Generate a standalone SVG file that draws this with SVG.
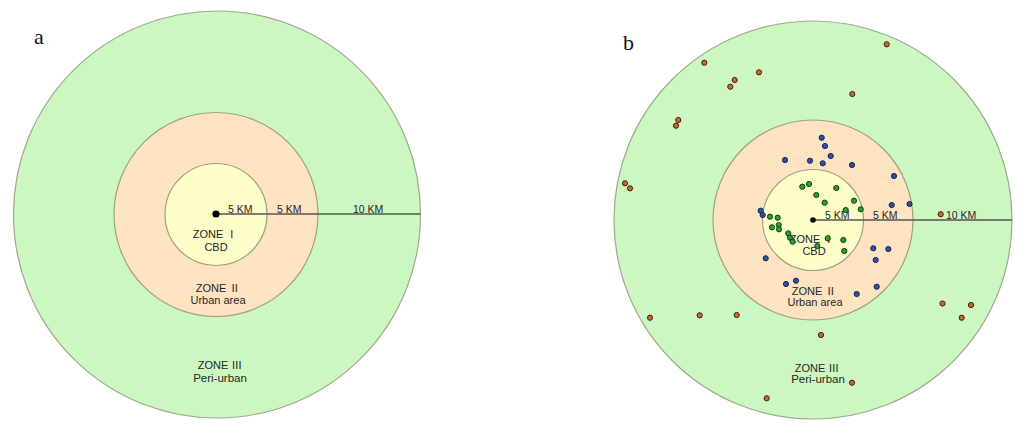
<svg xmlns="http://www.w3.org/2000/svg" width="1024" height="428" viewBox="0 0 1024 428">
<style>
.z3{fill:#cdf7c0;stroke:#a0a890;stroke-width:1.2}
.z2{fill:#fde3c0;stroke:#a0a080;stroke-width:1.2}
.z1{fill:#fdfdc8;stroke:#a0a080;stroke-width:1.2}
.rad{stroke:#555;stroke-width:1.6;fill:none}
.t{font-family:"Liberation Sans","Noto Sans CJK JP",sans-serif;font-size:11px;fill:#262626;text-anchor:middle}
.rn{font-family:"Noto Sans CJK JP",sans-serif}
.km{font-family:"Liberation Sans",sans-serif;font-size:10.5px;fill:#262626}
.lab{font-family:"Liberation Serif",serif;font-size:22px;fill:#111}
.br{fill:#c8682a;stroke:#3a2410;stroke-width:1}
.bl{fill:#2f4fb0;stroke:#1a2448;stroke-width:1}
.gr{fill:#2f9e2f;stroke:#163c16;stroke-width:1}
</style>
<rect width="1024" height="428" fill="#fff"/>
<text class="lab" x="34" y="44">a</text>
<text class="lab" x="623" y="50">b</text>

<g id="panel-a">
  <g id="a-zone3"><circle class="z3" cx="217" cy="214.5" r="203.5"/>
    <text class="t" x="220" y="369">ZONE <tspan class="rn">Ⅲ</tspan></text><text class="t" x="220" y="382" style="font-size:11.5px">Peri-urban</text></g>
  <g id="a-zone2"><circle class="z2" cx="216" cy="214.5" r="102"/>
    <text class="t" x="218" y="292">ZONE <tspan class="rn">Ⅱ</tspan></text><text class="t" x="218" y="304">Urban area</text></g>
  <g id="a-zone1"><circle class="z1" cx="216" cy="214.5" r="51"/>
    <text class="t" x="215" y="238">ZONE <tspan class="rn">Ⅰ</tspan></text><text class="t" x="216" y="251">CBD</text></g>
</g>

<g id="panel-b">
  <g id="b-zone3"><circle class="z3" cx="813" cy="220" r="199"/>
    <text class="t" x="817" y="372">ZONE <tspan class="rn">Ⅲ</tspan></text><text class="t" x="818" y="383" style="font-size:11.5px">Peri-urban</text></g>
  <g id="b-zone2"><circle class="z2" cx="813" cy="220" r="100"/>
    <text class="t" x="814" y="295">ZONE <tspan class="rn">Ⅱ</tspan></text><text class="t" x="815" y="306">Urban area</text></g>
  <g id="b-zone1"><circle class="z1" cx="813" cy="220" r="50.5"/>
    <text class="t" x="812" y="243">ZONE <tspan class="rn">Ⅰ</tspan></text><text class="t" x="814" y="255">CBD</text></g>
</g>

<g id="connectors">
  <line class="rad" x1="216" y1="214" x2="420.5" y2="214"/>
  <circle cx="216" cy="214" r="3.6" fill="#000"/>
  <line class="rad" x1="813" y1="220" x2="1012" y2="220"/>
  <circle cx="813" cy="220" r="2.8" fill="#000"/>
</g>

<g id="km-labels">
  <text class="km" x="228" y="213">5 KM</text>
  <text class="km" x="277" y="213">5 KM</text>
  <text class="km" x="353" y="213">10 KM</text>
  <text class="km" x="825" y="219">5 KM</text>
  <text class="km" x="873" y="219">5 KM</text>
  <text class="km" x="946" y="219">10 KM</text>
</g>

<g id="dots-periurban">
  <circle class="br" cx="886.7" cy="44.3" r="2.6"/>
  <circle class="br" cx="704.3" cy="62.7" r="2.6"/>
  <circle class="br" cx="759" cy="72.3" r="2.6"/>
  <circle class="br" cx="734.7" cy="80" r="2.6"/>
  <circle class="br" cx="730.3" cy="86.7" r="2.6"/>
  <circle class="br" cx="852.3" cy="94" r="2.6"/>
  <circle class="br" cx="678.3" cy="120" r="2.6"/>
  <circle class="br" cx="676" cy="125.7" r="2.6"/>
  <circle class="br" cx="625" cy="183.3" r="2.6"/>
  <circle class="br" cx="630" cy="188.3" r="2.6"/>
  <circle class="br" cx="940.7" cy="214.2" r="2.6"/>
  <circle class="br" cx="942.5" cy="303.5" r="2.6"/>
  <circle class="br" cx="971" cy="305" r="2.6"/>
  <circle class="br" cx="961.7" cy="317.7" r="2.6"/>
  <circle class="br" cx="650" cy="317.7" r="2.6"/>
  <circle class="br" cx="699.7" cy="315.3" r="2.6"/>
  <circle class="br" cx="736.7" cy="315" r="2.6"/>
  <circle class="br" cx="821" cy="335" r="2.6"/>
  <circle class="br" cx="852" cy="382.7" r="2.6"/>
  <circle class="br" cx="766.7" cy="398.3" r="2.6"/>
</g>

<g id="dots-urban">
  <circle class="bl" cx="821.7" cy="137.7" r="2.6"/>
  <circle class="bl" cx="825" cy="146" r="2.6"/>
  <circle class="bl" cx="830.7" cy="156" r="2.6"/>
  <circle class="bl" cx="785" cy="160" r="2.6"/>
  <circle class="bl" cx="810" cy="160.7" r="2.6"/>
  <circle class="bl" cx="822.7" cy="163.3" r="2.6"/>
  <circle class="bl" cx="852" cy="165" r="2.6"/>
  <circle class="bl" cx="894" cy="176" r="2.6"/>
  <circle class="bl" cx="891.7" cy="205" r="2.6"/>
  <circle class="bl" cx="909.5" cy="204" r="2.6"/>
  <circle class="bl" cx="760.7" cy="210.7" r="2.6"/>
  <circle class="bl" cx="762.7" cy="215" r="2.6"/>
  <circle class="bl" cx="765.7" cy="258.3" r="2.6"/>
  <circle class="bl" cx="873.3" cy="248.3" r="2.6"/>
  <circle class="bl" cx="888.3" cy="249" r="2.6"/>
  <circle class="bl" cx="875.7" cy="260" r="2.6"/>
  <circle class="bl" cx="786" cy="284" r="2.6"/>
  <circle class="bl" cx="796" cy="280.7" r="2.6"/>
  <circle class="bl" cx="876.7" cy="286.7" r="2.6"/>
  <circle class="bl" cx="856.7" cy="294" r="2.6"/>
</g>

<g id="dots-cbd">
  <circle class="gr" cx="802.3" cy="186.7" r="2.6"/>
  <circle class="gr" cx="809" cy="184" r="2.6"/>
  <circle class="gr" cx="836.3" cy="188" r="2.6"/>
  <circle class="gr" cx="816.3" cy="195" r="2.6"/>
  <circle class="gr" cx="824.7" cy="202.7" r="2.6"/>
  <circle class="gr" cx="854" cy="200.7" r="2.6"/>
  <circle class="gr" cx="860.7" cy="209.3" r="2.6"/>
  <circle class="gr" cx="845.7" cy="210" r="2.6"/>
  <circle class="gr" cx="770" cy="216.7" r="2.6"/>
  <circle class="gr" cx="777.7" cy="217.7" r="2.6"/>
  <circle class="gr" cx="772" cy="227.3" r="2.6"/>
  <circle class="gr" cx="778.7" cy="225" r="2.6"/>
  <circle class="gr" cx="779" cy="229.3" r="2.6"/>
  <circle class="gr" cx="788.3" cy="233.3" r="2.6"/>
  <circle class="gr" cx="790" cy="237.7" r="2.6"/>
  <circle class="gr" cx="792.7" cy="241.7" r="2.6"/>
  <circle class="gr" cx="827.7" cy="238.3" r="2.6"/>
  <circle class="gr" cx="843.3" cy="240" r="2.6"/>
  <circle class="gr" cx="817.3" cy="246" r="2.6"/>
  <circle class="gr" cx="844.3" cy="251" r="2.6"/>
</g>
</svg>
